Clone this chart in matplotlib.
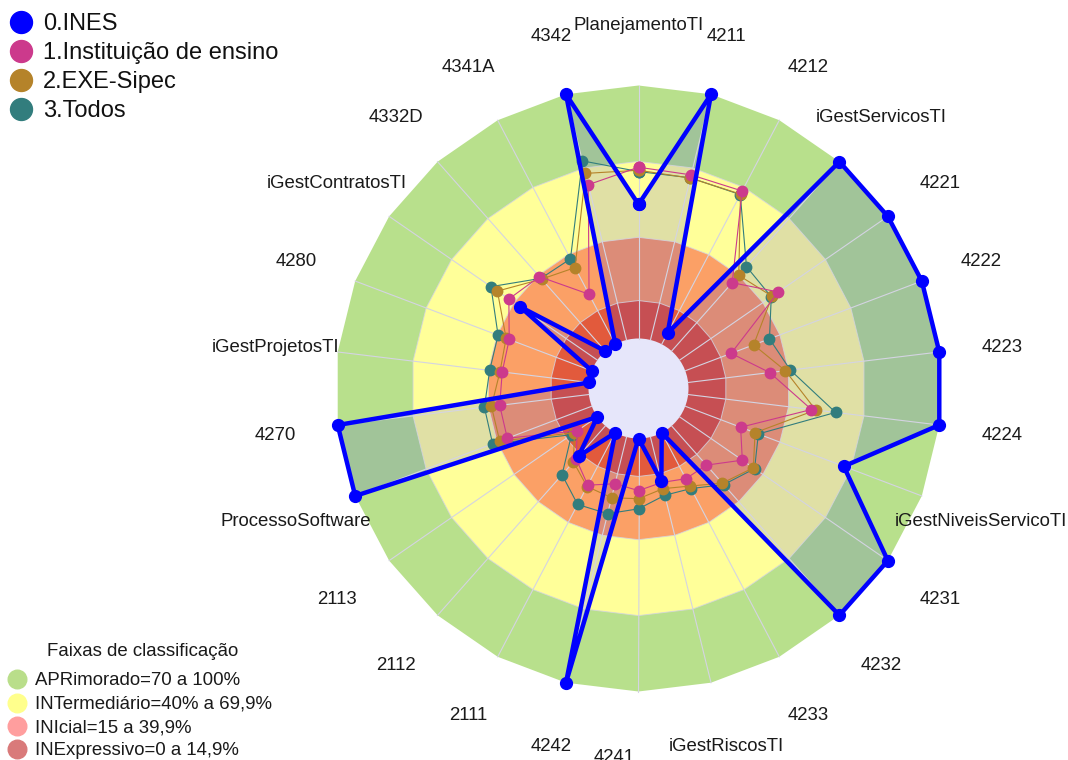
import numpy as np
import matplotlib
matplotlib.use('Agg')
import matplotlib.pyplot as plt
from matplotlib.patches import Circle
from matplotlib.transforms import offset_copy

plt.rcParams['font.family'] = ['Liberation Sans', 'DejaVu Sans']

categories = ['PlanejamentoTI', '4211', '4212', 'iGestServicosTI', '4221', '4222', '4223', '4224',
              'iGestNiveisServicoTI', '4231', '4232', '4233', 'iGestRiscosTI', '4241', '4242',
              '2111', '2112', '2113', 'ProcessoSoftware', '4270', 'iGestProjetosTI', '4280',
              'iGestContratosTI', '4332D', '4341A', '4342']

ines = [53, 100, 5, 100, 100, 100, 100, 100, 67, 100, 100, 0, 18, 0, 100, 0, 16, 0,
        100, 100, 0, 0, 37, 0, 0, 100]
inst_ensino = [67.7, 67.2, 68.4, 36.1, 47.4, 19.4, 32.5, 49.1, 23.4, 30.1, 20.7, 20.5, 18.5,
               20.6, 19.0, 23.4, 17.4, 9.7, 35.7, 35.5, 34.5, 34.9, 42.5, 39.3, 22.3, 63.2]
exe_sipec = [66.5, 65.9, 67.0, 40.0, 44.4, 28.9, 38.7, 50.8, 29.5, 35.4, 30.2, 23.8, 21.0,
             23.8, 24.7, 24.0, 19.0, 11.0, 38.9, 38.8, 35.4, 36.2, 48.0, 38.0, 34.2, 67.8]
todos = [66.0, 66.0, 66.8, 44.6, 44.0, 35.6, 40.7, 58.7, 30.9, 36.0, 31.0, 24.9, 23.7,
         27.8, 31.2, 32.0, 25.8, 12.4, 41.9, 41.6, 39.5, 39.6, 51.1, 38.4, 38.1, 72.9]

series_names = ['0.INES', '1.Instituição de ensino', '2.EXE-Sipec', '3.Todos']
series_colors = ['#0000FF', '#CC3A8C', '#B5832A', '#327D7D']

legend_title = 'Faixas de classificação'
band_names = ['APRimorado=70 a 100%', 'INTermediário=40% a 69,9%',
              'INIcial=15 a 39,9%', 'INExpressivo=0 a 14,9%']
band_upper = [100, 70, 40, 15]
band_colors = ['#B8E08C', '#FFFF99', '#FBA066', '#E25A3C']
band_legend_colors = ['#B9DE8A', '#FFFF8C', '#FF9E9E', '#D97A7A']

W, H = 1068, 760
fig = plt.figure(figsize=(W / 100, H / 100), dpi=100)
cx, cy, R = 638.5, 388.5, 303.0
ax = fig.add_axes([(cx - R) / W, (H - cy - R) / H, 2 * R / W, 2 * R / H], projection='polar')
ax.set_theta_zero_location('N')
ax.set_theta_direction(-1)
hole_px = 50.0
rorig = 100 * hole_px / (R - hole_px)
ax.set_ylim(0, 100)
ax.set_rorigin(-rorig)
ax.grid(False)
ax.set_xticks([])
ax.set_yticks([])
ax.axis('off')

n = len(categories)
theta = np.arange(n) * 2 * np.pi / n
tc = np.append(theta, theta[0])

def closed(v):
    return np.append(np.asarray(v, float), v[0])

# bands
for i, (u, c) in enumerate(zip(band_upper, band_colors)):
    ax.fill(tc, np.full(n + 1, u), color=c, lw=0, zorder=1 + i * 0.01, clip_on=False)

# blue fill
ax.fill(tc, closed(ines), color='#0000FF', alpha=0.12, lw=0, zorder=1.5, clip_on=False)

# hole
ax.add_patch(Circle((0.5, 0.5), hole_px / (2 * R), transform=ax.transAxes,
                    facecolor='#E6E6FA', edgecolor='none', zorder=1.8, clip_on=False))

# grid
gcol = '#D4D4E2'
for t in theta:
    ax.plot([t, t], [0, 100], color=gcol, lw=0.8, zorder=2, clip_on=False)
for u in band_upper[1:]:
    ax.plot(tc, np.full(n + 1, u), color=gcol, lw=0.7, zorder=2, alpha=0.8, clip_on=False)

# traces (reverse draw order so INES on top)
data = [ines, inst_ensino, exe_sipec, todos]
for k in [3, 2, 1]:
    ax.plot(tc, closed(data[k]), color=series_colors[k], lw=0.8, marker='o', ms=7.5,
            mec=series_colors[k], mfc=series_colors[k], zorder=3 + (3 - k), clip_on=False)
ax.plot(tc, closed(ines), color=series_colors[0], lw=3.2, marker='o', ms=8.5, zorder=8,
        clip_on=False)

# category labels
rl = (366 / R) * (100 + rorig) - rorig
for t, lab in zip(theta, categories):
    ha = 'center'
    dx = 0
    if lab == '4241':
        ha = 'right'
        dx = -4
    tr = offset_copy(ax.transData, fig=fig, x=dx, y=-3, units='dots')
    ax.text(t, rl, lab, ha=ha, va='center', fontsize=13.4, color='#1a1a1a', clip_on=False,
            transform=tr)

# legends in pixel coordinates
lax = fig.add_axes([0, 0, 1, 1])
lax.set_xlim(0, W)
lax.set_ylim(H, 0)
lax.axis('off')
lax.patch.set_alpha(0)
for name, c, y in zip(series_names, series_colors, [21.7, 51.2, 80.0, 108.6]):
    lax.plot([21], [y], 'o', ms=15.8, color=c, mec=c)
    lax.text(43, y + 2, name, ha='left', va='center', fontsize=17, color='#111111')

lax.text(47, 651, legend_title, ha='left', va='center', fontsize=13.4, color='#1a1a1a')
for name, c, y in zip(band_names, band_legend_colors, [679.3, 702.7, 726.3, 748.8]):
    lax.plot([17], [y], 'o', ms=13.4, color=c, mec=c)
    lax.text(35, y + 1.5, name, ha='left', va='center', fontsize=13.4, color='#1a1a1a')

fig.savefig('out.png', dpi=100)
